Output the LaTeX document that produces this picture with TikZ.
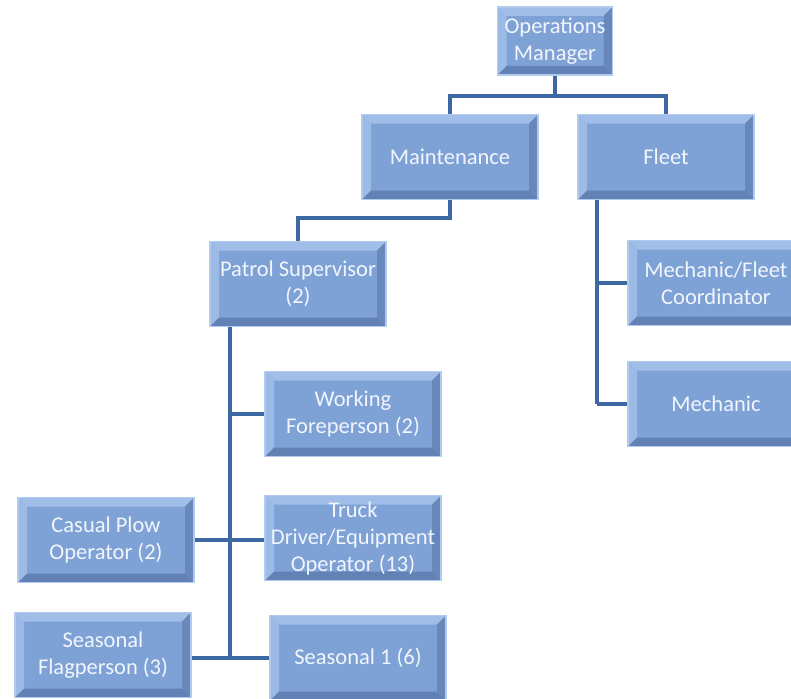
\documentclass[tikz,border=0pt]{standalone}
\usepackage{fontspec}
\setmainfont{Carlito}
\definecolor{boxbase}{RGB}{126,161,214}
\definecolor{boxlight}{RGB}{160,190,232}
\definecolor{boxdark}{RGB}{98,130,182}
\definecolor{boxrim}{RGB}{178,202,238}
\definecolor{linkblue}{RGB}{62,104,164}
\definecolor{txtcol}{RGB}{242,246,252}
\newcommand{\bev}{9pt}
\tikzset{
  orgbox/.style={draw=boxrim, line width=1.2pt, fill=boxbase, minimum width=176pt, minimum height=85pt,
    inner sep=1pt, align=center, text=txtcol, font=\fontsize{22.5}{27}\selectfont,
    path picture={
      \fill[boxlight] (path picture bounding box.north west) -- (path picture bounding box.north east)
        -- ([shift={(-\bev,-\bev)}]path picture bounding box.north east) -- ([shift={(\bev,-\bev)}]path picture bounding box.north west) -- cycle;
      \fill[boxlight!85!boxbase] (path picture bounding box.north west) -- (path picture bounding box.south west)
        -- ([shift={(\bev,\bev)}]path picture bounding box.south west) -- ([shift={(\bev,-\bev)}]path picture bounding box.north west) -- cycle;
      \fill[boxdark] (path picture bounding box.south west) -- (path picture bounding box.south east)
        -- ([shift={(-\bev,\bev)}]path picture bounding box.south east) -- ([shift={(\bev,\bev)}]path picture bounding box.south west) -- cycle;
      \fill[boxdark!80!boxbase] (path picture bounding box.north east) -- (path picture bounding box.south east)
        -- ([shift={(-\bev,\bev)}]path picture bounding box.south east) -- ([shift={(-\bev,-\bev)}]path picture bounding box.north east) -- cycle;
    }},
  link/.style={draw=linkblue, line width=3.6pt}
}
\begin{document}
\begin{tikzpicture}[x=1pt,y=-1pt]
\useasboundingbox (0,0) rectangle (791,698);
\clip (0,0) rectangle (791,698);
% nodes
\node[orgbox, minimum width=115pt, minimum height=68pt] (om) at (555,41) {Operations\\Manager};
\node[orgbox] (mt) at (450,157) {Maintenance};
\node[orgbox] (fl) at (666,157) {Fleet};
\node[orgbox] (ps) at (298,284) {Patrol Supervisor\\(2)};
\node[orgbox] (mf) at (716,283) {Mechanic/Fleet\\Coordinator};
\node[orgbox] (me) at (716,404) {Mechanic};
\node[orgbox] (wf) at (353,414) {Working\\Foreperson (2)};
\node[orgbox] (td) at (353,538) {Truck\\Driver/Equipment\\Operator (13)};
\node[orgbox] (s1) at (358,658) {Seasonal 1 (6)};
\node[orgbox] (cp) at (106,540) {Casual Plow\\Operator (2)};
\node[orgbox] (sf) at (103,655) {Seasonal\\Flagperson (3)};
% junction coordinates
\coordinate (j1) at (555,96);
\coordinate (j2) at (450,218);
\coordinate (fa) at (597,283);
\coordinate (fb) at (597,404);
\coordinate (pa) at (230,414);
\coordinate (pb) at (230,540);
\coordinate (pc) at (230,658);
% connectors
\draw[link] (om.south) -- (j1);
\draw[link] (mt.north) |- (j1) -| (fl.north);
\draw[link] (mt.south) -- (j2) -| (ps.north);
\draw[link] (fl.south -| fa) -- (fb);
\draw[link] (fa) -- (mf.west);
\draw[link] (fb) -- (me.west);
\draw[link] (ps.south -| pa) -- (pc);
\draw[link] (pa) -- (wf.west);
\draw[link] (cp.east |- pb) -- (pb) -- (td.west |- pb);
\draw[link] (sf.east |- pc) -- (pc) -- (s1.west |- pc);
\end{tikzpicture}
\end{document}
